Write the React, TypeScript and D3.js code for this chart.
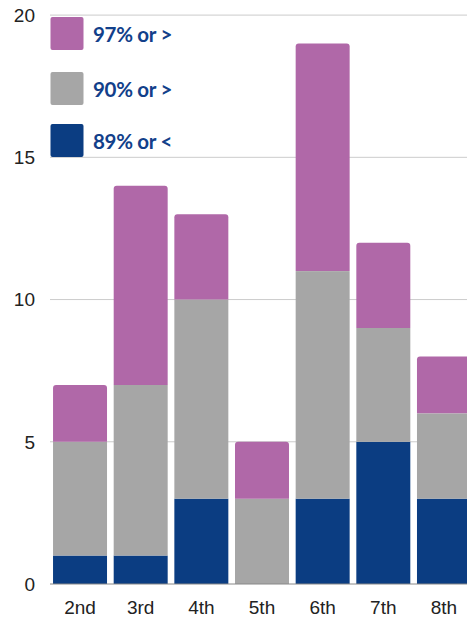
import React from "react";
import * as d3 from "d3";

const categories = ["2nd", "3rd", "4th", "5th", "6th", "7th", "8th"];
const low = [1, 1, 3, 0, 3, 5, 3];      // 89% or <
const mid = [4, 6, 7, 3, 8, 4, 3];      // 90% or >
const high = [2, 7, 3, 2, 8, 3, 2];     // 97% or >
const yTicks = [0, 5, 10, 15, 20];
const seriesNames = ["97% or >", "90% or >", "89% or <"];
const colors = { high: "#b068a8", mid: "#a6a6a6", low: "#0b3d82" };

const W = 467;
const H = 620;

function topRounded(x: number, y: number, w: number, h: number, r: number) {
  const rr = Math.min(r, h / 2, w / 2);
  return `M${x},${y + h}V${y + rr}Q${x},${y} ${x + rr},${y}H${x + w - rr}Q${x + w},${y} ${x + w},${y + rr}V${y + h}Z`;
}

export default function App() {
  const x = d3.scaleBand<string>().domain(categories).range([49.7, 474.3]).paddingInner(0.11).paddingOuter(0.055);
  const y = d3.scaleLinear().domain([0, 20]).range([584, 15.1]);

  const data = categories.map((c, i) => ({ c, low: low[i], mid: mid[i], high: high[i] }));
  const stack = d3.stack<any>().keys(["low", "mid", "high"])(data);
  const keyColor: Record<string, string> = { low: colors.low, mid: colors.mid, high: colors.high };

  const legendColors = [colors.high, colors.mid, colors.low];
  const legendY = [17, 72, 124];

  return (
    <svg width={W} height={H} style={{ position: "absolute", left: 0, top: 0 }} xmlns="http://www.w3.org/2000/svg">
      <rect width={W} height={H} fill="#ffffff" />
      {yTicks.filter((t) => t > 0).map((t) => (
        <line key={t} x1={50} x2={W} y1={y(t)} y2={y(t)} stroke="#cccccc" strokeWidth={1} />
      ))}
      {yTicks.map((t) => (
        <text key={t} x={35} y={y(t)} dy="0.36em" textAnchor="end" fontFamily="Liberation Sans, Arial, sans-serif" fontSize={19} fill="#222">
          {t}
        </text>
      ))}
      {stack.map((layer) =>
        layer.map((d, i) => {
          const x0 = x(categories[i])!;
          const w = x.bandwidth();
          const y0 = y(d[1]);
          const h = y(d[0]) - y(d[1]);
          if (h <= 0) return null;
          const isTop = layer.key === "high" || (layer.key === "mid" && high[i] === 0);
          return isTop ? (
            <path key={layer.key + i} d={topRounded(x0, y0, w, h, 3)} fill={keyColor[layer.key]} />
          ) : (
            <rect key={layer.key + i} x={x0} y={y0} width={w} height={h} fill={keyColor[layer.key]} />
          );
        })
      )}
      <line x1={50} x2={W} y1={y(0)} y2={y(0)} stroke="#888888" strokeWidth={1} />
      {categories.map((c) => (
        <text key={c} x={x(c)! + x.bandwidth() / 2} y={614} textAnchor="middle" fontFamily="Liberation Sans, Arial, sans-serif" fontSize={19} fill="#222">
          {c}
        </text>
      ))}
      {seriesNames.map((s, i) => (
        <g key={s}>
          <rect x={50.5} y={legendY[i]} width={33} height={33} rx={2} fill={legendColors[i]} />
          <text x={93} y={legendY[i] + 25} fontFamily="Lato, 'Noto Sans', sans-serif" fontWeight={700} fontSize={20.5} fill="#12408a" letterSpacing={-0.3}>
            {s}
          </text>
        </g>
      ))}
    </svg>
  );
}
